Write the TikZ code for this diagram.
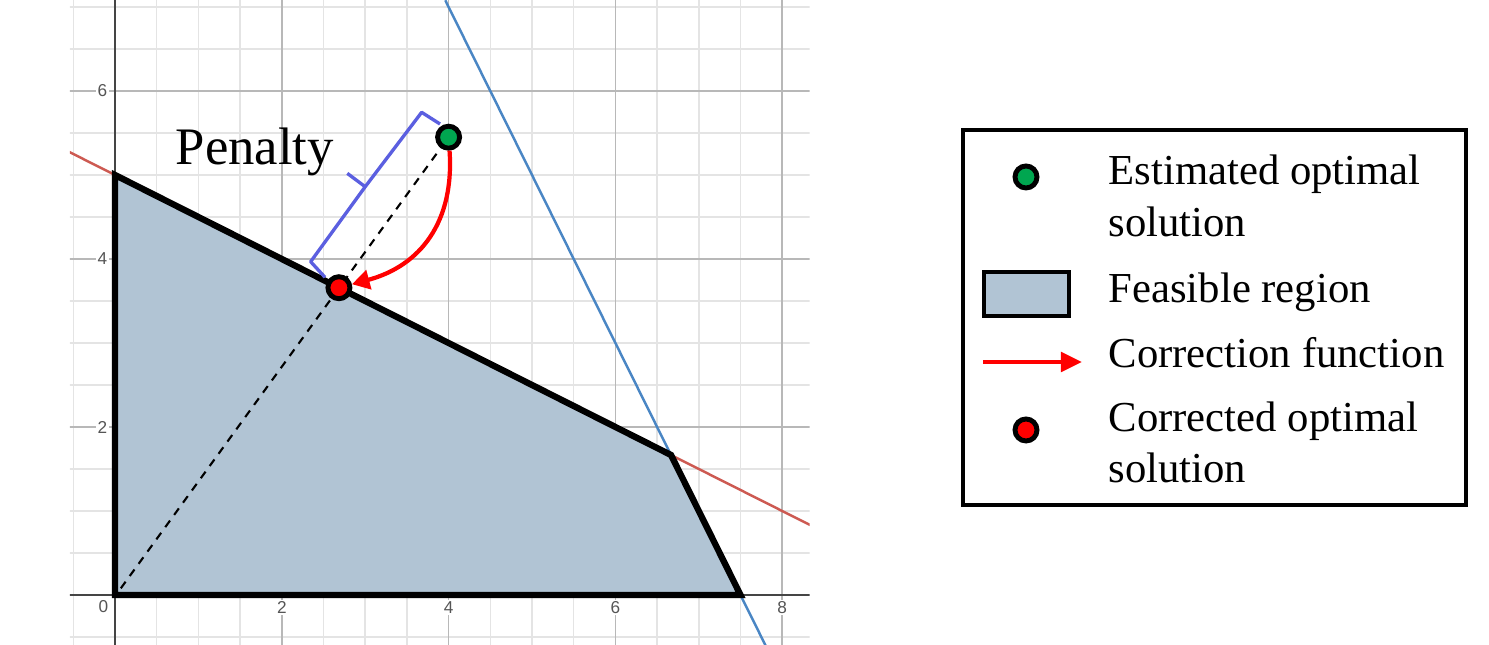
\documentclass[tikz,border=0pt]{standalone}
\usepackage{fontspec}
\setmainfont{Liberation Serif}
\setsansfont{Liberation Sans}
\usetikzlibrary{arrows.meta}
\definecolor{minorgrid}{HTML}{E4E4E4}
\definecolor{majorgrid}{HTML}{B8B8B8}
\definecolor{axiscol}{HTML}{454545}
\definecolor{regionfill}{HTML}{B1C4D4}
\definecolor{redline}{HTML}{CD5A52}
\definecolor{blueline}{HTML}{4A86C4}
\definecolor{estgreen}{HTML}{00A650}
\definecolor{bracecol}{HTML}{5B5FE0}
\definecolor{ticklab}{HTML}{555555}
\begin{document}
\begin{tikzpicture}[
  ptnode/.style={circle, draw=black, line width=1.4pt, minimum size=0.22cm, inner sep=0pt},
  minorline/.style={minorgrid, line width=0.4pt},
  majorline/.style={majorgrid, line width=0.5pt},
  axisline/.style={axiscol, line width=0.6pt},
  ticklabel/.style={font=\sffamily\fontsize{4.9}{5.5}\selectfont, text=ticklab, fill=white, inner sep=0.4pt},
  corrarrow/.style={red, line width=1.2pt, -{Triangle[length=5pt,width=5.5pt]}},
  legtext/.style={anchor=base west, inner sep=0pt, font=\fontsize{12.15}{14}\selectfont},
]
\useasboundingbox (0,0) rectangle (14.89,-6.45);
\begin{scope}[shift={(1.15,-5.95)}, x=0.834cm, y=0.84cm]
  \begin{scope}
    \clip (-0.54,-0.595) rectangle (8.33,7.08);
    \foreach \x in {-0.5,0.5,1,1.5,2.5,3,3.5,4.5,5,5.5,6.5,7,7.5,8.5}
      \draw[minorline] (\x,-0.6) -- (\x,7.1);
    \foreach \y in {-0.5,0.5,1,1.5,2.5,3,3.5,4.5,5,5.5,6.5,7}
      \draw[minorline] (-0.6,\y) -- (8.4,\y);
    \foreach \x in {2,4,6,8}
      \draw[majorline] (\x,-0.6) -- (\x,7.1);
    \foreach \y in {2,4,6}
      \draw[majorline] (-0.6,\y) -- (8.4,\y);
    \draw[axisline] (0,-0.6) -- (0,7.1);
    \draw[axisline] (-0.6,0) -- (8.4,0);
    \fill[regionfill] (0,0) -- (0,5) -- (20/3,5/3) -- (7.5,0) -- cycle;
    \draw[redline, line width=0.7pt] (-0.6,5.3) -- (8.4,0.8);
    \draw[blueline, line width=0.7pt] (3.96,7.08) -- (7.8,-0.6);
  \end{scope}
  \node[ticklabel] (ty6) at (-0.15,6) {6};
  \node[ticklabel] (ty4) at (-0.15,4) {4};
  \node[ticklabel] (ty2) at (-0.15,2) {2};
  \node[ticklabel] (t0) at (-0.14,-0.14) {0};
  \node[ticklabel] (tx2) at (2,-0.15) {2};
  \node[ticklabel] (tx4) at (4,-0.15) {4};
  \node[ticklabel] (tx6) at (6,-0.15) {6};
  \node[ticklabel] (tx8) at (8,-0.15) {8};
  \draw[black, line width=1.8pt] (0,0) -- (0,5) -- (20/3,5/3) -- (7.5,0) -- cycle;
  \coordinate (orig) at (0.07,0.08);
  \coordinate (pE) at (4,5.45);
  \coordinate (pC) at (2.685,3.658);
  \draw[black, line width=0.6pt, dash pattern=on 2.3pt off 2pt] (orig) -- (pE);
  \draw[bracecol, line width=0.95pt, line join=round]
    (2.518,3.782) -- (2.346,3.968) -- (3.0,4.86) -- (2.785,5.02);
  \draw[bracecol, line width=0.95pt, line join=round]
    (3.0,4.86) -- (3.677,5.746) -- (3.897,5.607);
  \node[ptnode, fill=estgreen] (est) at (pE) {};
  \node[ptnode, fill=red] (cor) at (pC) {};
  \draw[corrarrow] (est) to[out=-86, in=15, looseness=1.1] (cor);
\end{scope}
\node[anchor=base west, inner sep=0pt, font=\fontsize{15}{18}\selectfont] (pen) at (1.75,-1.645) {Penalty};
% legend
\node[draw, line width=1.2pt, minimum width=5.03cm, minimum height=3.75cm, inner sep=0pt] (legend) at (12.145,-3.175) {};
\node[ptnode, fill=estgreen] (legest) at (10.26,-1.77) {};
\node[draw, line width=1.3pt, fill=regionfill, minimum width=0.85cm, minimum height=0.44cm, inner sep=0pt] (legreg) at (10.265,-2.94) {};
\coordinate (la1) at (9.83,-3.62);
\coordinate (la2) at (10.82,-3.62);
\draw[red, line width=1.2pt, -{Triangle[length=6pt,width=5.5pt]}] (la1) -- (la2);
\node[ptnode, fill=red] (legcor) at (10.26,-4.30) {};
\node[legtext] (l1a) at (11.08,-1.85) {Estimated optimal};
\node[legtext] (l1b) at (11.08,-2.367) {solution};
\node[legtext] (l2) at (11.08,-3.027) {Feasible region};
\node[legtext] (l3) at (11.08,-3.677) {Correction function};
\node[legtext] (l4a) at (11.08,-4.317) {Corrected optimal};
\node[legtext] (l4b) at (11.08,-4.827) {solution};
\end{tikzpicture}
\end{document}
